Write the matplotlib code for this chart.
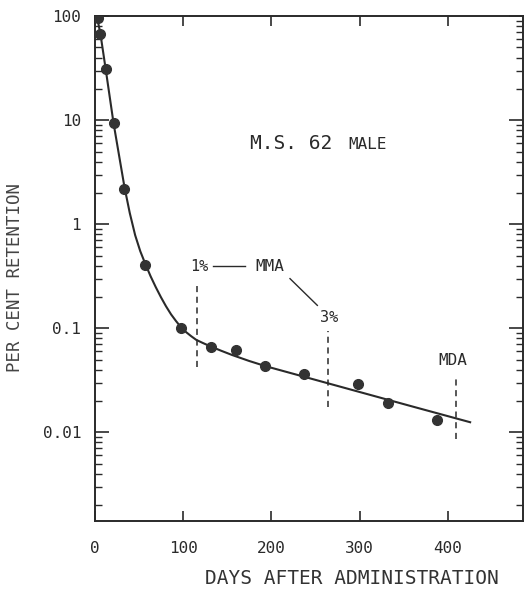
#!/usr/bin/env python3
"""
Whole-body retention curve, M.S. 62 male: per cent retention vs days (log scale).
Saves out.png (525x599 px).
"""

import matplotlib
matplotlib.use("Agg")

import matplotlib.pyplot as plt
from matplotlib.ticker import FixedLocator, FixedFormatter, LogLocator, NullFormatter

# measured points
days = [3, 6, 12, 21, 33, 57, 98, 132, 160, 193, 237, 298, 332, 388]
retention = [95, 68, 31, 9.4, 2.2, 0.41, 0.10, 0.066, 0.062, 0.043, 0.036, 0.029, 0.019, 0.013]

# fitted curve
curve_days = [2, 6, 12.1, 21, 27.2, 33.4, 39.4, 45.5, 51.3, 57.2, 63, 68.9, 74.7, 80.4,
              86.2, 91.9, 97.6, 103.4, 109.1, 114.7, 121.6, 130.6, 143, 155.5, 174.7,
              193.8, 231.1, 295.4, 359.8, 425.2]
curve_vals = [100, 68.7, 30.9, 9.36, 4.61, 2.27, 1.28, 0.784, 0.550, 0.412, 0.316, 0.248,
              0.199, 0.163, 0.136, 0.117, 0.102, 0.0916, 0.0838, 0.0774, 0.0726, 0.0671,
              0.0608, 0.0553, 0.0485, 0.0431, 0.0353, 0.0250, 0.0177, 0.0125]

# dashed marker lines: (day, low, high)
mma_1pct = (116, 0.042, 0.28)
mma_3pct = (264, 0.0174, 0.095)
mda = (409, 0.0087, 0.035)

y_ticks = [100, 10, 1, 0.1, 0.01]
y_labels = ["100", "10", "1", "0.1", "0.01"]
x_ticks = [0, 100, 200, 300, 400]
x_labels = ["0", "100", "200", "300", "400"]

FONT = "DejaVu Sans Mono"
INK = "#2a2a2a"


def main() -> None:
    fig = plt.figure(figsize=(5.25, 5.99), dpi=100)
    ax = fig.add_axes([0.181, 0.130, 0.815, 0.843])

    ax.set_yscale("log")
    ax.set_xlim(0, 485)
    ax.set_ylim(0.0014, 100)

    ax.plot(curve_days, curve_vals, color=INK, linewidth=1.5, zorder=2,
            solid_joinstyle="round")
    ax.plot(days, retention, "o", color="#333333", markersize=7, zorder=3)

    for d, lo, hi in (mma_1pct, mma_3pct, mda):
        ax.plot([d, d], [lo, hi], color=INK, linewidth=1.1, linestyle=(0, (4, 3)))

    # annotations
    ax.text(118, 0.39, "1%", fontsize=11, family=FONT, color=INK, ha="center", va="center")
    ax.plot([134, 170], [0.40, 0.40], color=INK, linewidth=1.0)
    ax.text(198, 0.39, "MMA", fontsize=11.5, family=FONT, color=INK, ha="center", va="center")
    ax.plot([221, 252], [0.30, 0.166], color=INK, linewidth=1.0)
    ax.text(265, 0.128, "3%", fontsize=11, family=FONT, color=INK, ha="center", va="center")
    ax.text(405, 0.049, "MDA", fontsize=11.5, family=FONT, color=INK, ha="center", va="center")
    ax.text(176, 6.0, "M.S. 62", fontsize=14, family=FONT, color=INK, ha="left", va="center")
    ax.text(287, 5.8, "MALE", fontsize=11.5, family=FONT, color=INK, ha="left", va="center")

    # ticks: inward on all four sides
    ax.yaxis.set_major_locator(FixedLocator(y_ticks))
    ax.yaxis.set_major_formatter(FixedFormatter(y_labels))
    ax.yaxis.set_minor_locator(LogLocator(base=10, subs=range(2, 10)))
    ax.yaxis.set_minor_formatter(NullFormatter())
    ax.xaxis.set_major_locator(FixedLocator(x_ticks))
    ax.xaxis.set_major_formatter(FixedFormatter(x_labels))

    ax.tick_params(which="both", direction="in", top=True, right=True, colors=INK)
    ax.tick_params(axis="y", which="major", length=10, width=1.2, pad=10, labelsize=11.5)
    ax.tick_params(axis="y", which="minor", length=5, width=1.0)
    ax.tick_params(axis="x", which="major", length=7, width=1.2, pad=14, labelsize=11.5)
    for lab in ax.get_xticklabels() + ax.get_yticklabels():
        lab.set_family(FONT)

    for sp in ax.spines.values():
        sp.set_color(INK)
        sp.set_linewidth(1.4)

    fig.text(0.670, 0.018, "DAYS AFTER ADMINISTRATION", fontsize=14, family=FONT,
             color="#333333", ha="center", va="bottom")
    fig.text(0.028, 0.536, "PER CENT RETENTION", fontsize=12.5, family=FONT,
             color="#444444", rotation=90, ha="center", va="center")

    fig.savefig("out.png", dpi=100, facecolor="white")
    plt.close(fig)


if __name__ == "__main__":
    main()
